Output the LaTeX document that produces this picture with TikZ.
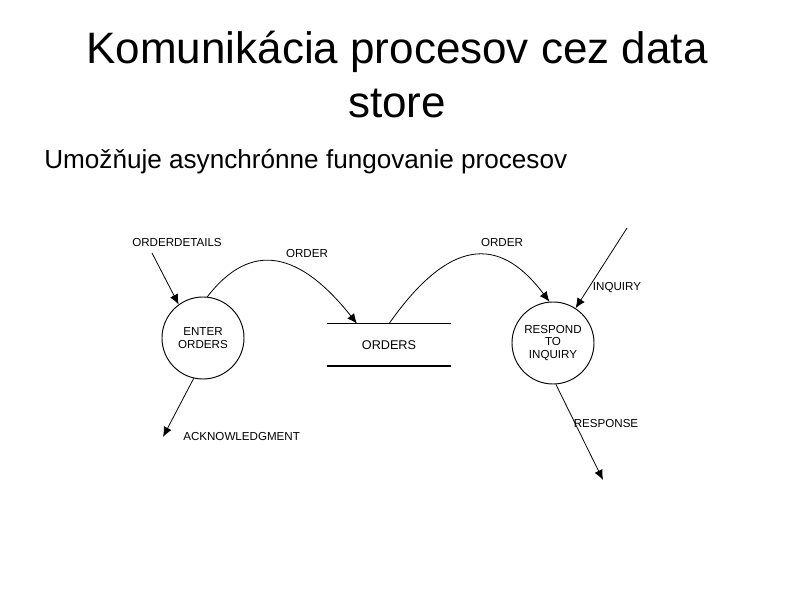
\documentclass[tikz,border=0pt]{standalone}
\usepackage{fontspec}
\setmainfont{Liberation Sans}
\usepackage{tikz}
\usetikzlibrary{arrows.meta,positioning}

\begin{document}
\begin{tikzpicture}[
  x=0.75pt, y=-0.75pt,
  title/.style={inner sep=0pt, align=center, font=\fontsize{33}{40.5}\selectfont},
  subtitle/.style={inner sep=0pt, font=\fontsize{19.6}{23}\selectfont},
  proc/.style={circle, draw=black, line width=0.7pt, minimum size=61.5pt,
               inner sep=0pt, align=center, font=\fontsize{8.7}{9.2}\selectfont},
  store/.style={rectangle, minimum width=92pt, minimum height=31.5pt,
                inner sep=0pt, font=\fontsize{9.5}{10}\selectfont},
  flow/.style={-{Latex[length=7.5pt,width=6.5pt]}, line width=0.6pt, black},
  lbl/.style={inner sep=0pt, font=\fontsize{8.7}{9.2}\selectfont},
]
\useasboundingbox (0,0) rectangle (794,595);

% ================= heading
\node[title, anchor=north] (ttl) at (397,31)
  {Komunikácia procesov cez data\\store};
\node[subtitle, anchor=base west] (sub) at (44,169)
  {Umožňuje asynchrónne fungovanie procesov};

% ================= processes and the data store
\node[proc] (enter)   at (203,338) {ENTER\\ORDERS};
\node[proc] (respond) at (553,343) {RESPOND\\TO\\INQUIRY};
\node[store] (orders) at (389,345) {ORDERS};
\draw[line width=0.9pt] (orders.north west) -- (orders.north east);
\draw[line width=1.5pt] (orders.south west) -- (orders.south east);

% ================= free ends of the outside flows
\coordinate (odsrc)  at (152,253);
\coordinate (acktip) at (163,437);
\coordinate (inqsrc) at (627,228);
\coordinate (restip) at (603,480);

% ================= flows
\draw[flow] (odsrc) -- (enter.126);
\draw[flow] (enter.-103) -- (acktip);
\draw[flow] (enter.84) .. controls +(44,-57) and +(-57,-72) .. ([xshift=-24pt]orders.north);
\draw[flow] (orders.north) .. controls +(66,-94) and +(-45,-60) .. (respond.95);
\draw[flow] (inqsrc) -- (respond.57);
\draw[flow] (respond.-86) -- (restip);

% ================= flow labels
\node[lbl] (lodet)  at (177,243) {ORDERDETAILS};
\node[lbl] (lord1)  at (307,254) {ORDER};
\node[lbl] (lord2)  at (502,243) {ORDER};
\node[lbl, anchor=west] (lack) at (183,437) {ACKNOWLEDGMENT};
\node[lbl] (linq)   at (617,288) {INQUIRY};
\node[lbl] (lres)   at (606,424) {RESPONSE};
\end{tikzpicture}
\end{document}
